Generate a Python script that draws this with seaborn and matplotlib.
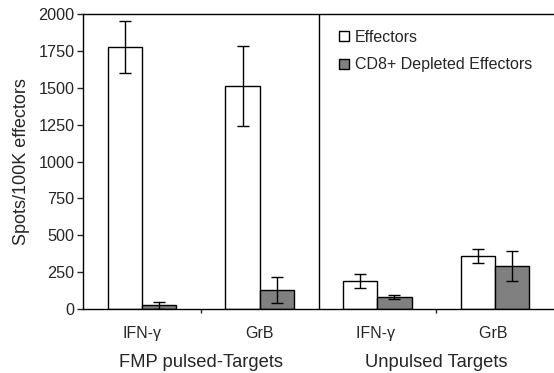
import matplotlib
matplotlib.use("Agg")
import matplotlib.pyplot as plt
import seaborn as sns
import pandas as pd
from matplotlib.patches import Patch

sns.set_style("white")
plt.rcParams['font.family'] = ['Liberation Sans', 'DejaVu Sans']

categories = ["IFN-γ", "GrB", "IFN-γ ", "GrB "]
group_labels = ["FMP pulsed-Targets", "Unpulsed Targets"]
series = ["Effectors", "CD8+ Depleted Effectors"]
effectors = [1775, 1510, 190, 360]
effectors_err = [175, 270, 50, 50]
depleted = [25, 130, 80, 290]
depleted_err = [25, 90, 13, 100]

df = pd.DataFrame({
    "cat": categories * 2,
    "series": [series[0]] * 4 + [series[1]] * 4,
    "value": effectors + depleted,
})

fig = plt.figure(figsize=(5.54, 3.73), dpi=100)
ax = fig.add_axes([83 / 554, 1 - 309 / 373, 471 / 554, 295 / 373])
width = 0.58
sns.barplot(data=df, x="cat", y="value", hue="series", order=categories,
            hue_order=series, palette=["white", "#808080"], width=width,
            edgecolor="black", linewidth=1.0, errorbar=None, ax=ax, legend=False)

xs = list(range(len(categories)))
ax.errorbar([x - width / 4 for x in xs], effectors, yerr=effectors_err, fmt="none",
            ecolor="black", elinewidth=1, capsize=4, capthick=1)
ax.errorbar([x + width / 4 for x in xs], depleted, yerr=depleted_err, fmt="none",
            ecolor="black", elinewidth=1, capsize=4, capthick=1)

ax.set_xlim(-0.5, 3.5)
ax.set_ylim(0, 2000)
ax.set_yticks(range(0, 2001, 250))
ax.tick_params(axis="y", direction="out", length=4, width=1, left=True, labelsize=11.7, pad=2)
ax.tick_params(axis="x", which="major", length=0, labelsize=11.5, pad=12)
ax.set_xticks([0.5, 2.5], minor=True)
ax.tick_params(axis="x", which="minor", direction="out", length=3, width=1, bottom=True)
ax.axvline(1.5, color="black", linewidth=1)
for s in ["left", "bottom", "top"]:
    ax.spines[s].set_visible(True)
    ax.spines[s].set_color("black")
    ax.spines[s].set_linewidth(1)
ax.spines["right"].set_visible(False)
ax.set_xlabel("")
ax.set_ylabel("Spots/100K effectors", fontsize=13, labelpad=6)

for i, g in enumerate(group_labels):
    ax.text(0.5 + 2 * i, -0.18, g, transform=ax.get_xaxis_transform(),
            ha="center", va="center", fontsize=13.2)

handles = [Patch(facecolor="white", edgecolor="black", label=series[0]),
           Patch(facecolor="#808080", edgecolor="black", label=series[1])]
ax.legend(handles=handles, loc="upper left", bbox_to_anchor=(0.52, 0.985),
          frameon=False, fontsize=11.5, handlelength=0.6, handleheight=0.6,
          handletextpad=0.4, labelspacing=0.8, borderaxespad=0.3)

fig.savefig("out.png", dpi=100)
